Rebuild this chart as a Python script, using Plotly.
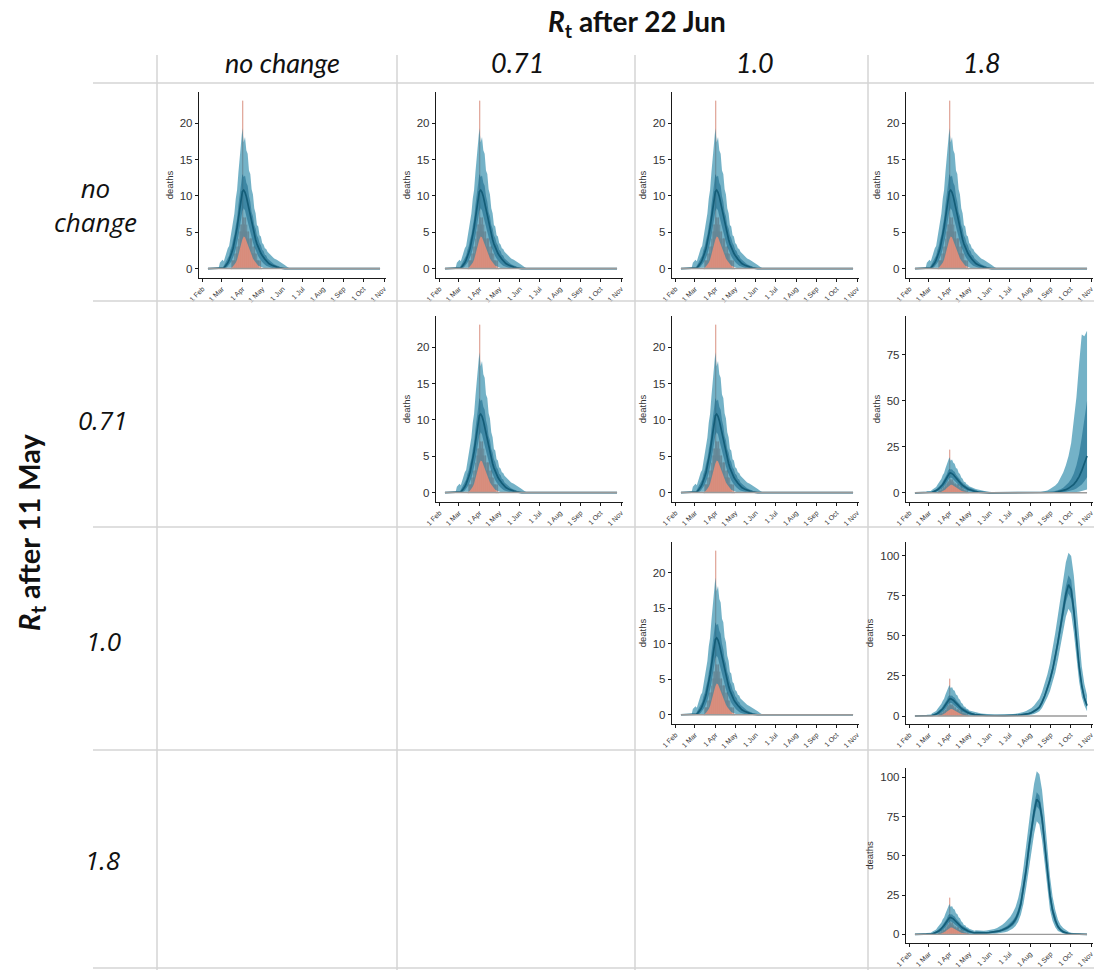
import pandas as pd
import plotly.graph_objects as go

FIG_W, FIG_H = 1094, 970

# ------------------------------------------------------------------ data
# first wave (common to all scenarios), every 2 days
W1_DATES = pd.date_range("2020-02-09", "2020-05-09", freq="2D")
W1_HI95 = [0, 0, 0, 0, 0, 0, 0, 0, 0, 0.8, 1.0, 1.2, 1.0, 1.7, 2.1, 2.8, 3.1, 4.3, 5.3, 6.9,
           7.6, 9.6, 10.8, 13.2, 15.1, 17.6, 19.3, 17.4, 18.1, 16.3, 15.8, 13.5, 13.0, 10.9, 10.2,
           8.3, 7.6, 6.0, 5.8, 4.6, 4.4, 3.5, 3.3, 2.8, 2.7, 2.3]
W1_HI50 = [0, 0, 0, 0, 0, 0, 0, 0, 0, 0, 0, 0, 0.4, 0.8, 1.0, 1.5, 1.8, 2.6, 3.1, 4.0,
           4.7, 5.9, 6.9, 8.7, 10.0, 12.0, 13.0, 12.6, 12.8, 11.8, 11.4, 10.0, 9.2, 7.8, 7.2,
           6.0, 5.5, 4.6, 4.2, 3.5, 3.2, 2.6, 2.4, 1.9, 1.8, 1.4]
W1_MED = [0, 0, 0, 0, 0, 0, 0, 0, 0, 0, 0, 0, 0.1, 0.3, 0.5, 0.8, 1.2, 1.6, 2.2, 2.8,
          3.6, 4.5, 5.6, 6.9, 8.2, 9.4, 10.6, 10.8, 10.5, 9.9, 9.0, 8.0, 7.1, 6.2, 5.4,
          4.7, 4.0, 3.4, 2.9, 2.5, 2.1, 1.8, 1.5, 1.3, 1.1, 0.9]
W1_LO50 = [0, 0, 0, 0, 0, 0, 0, 0, 0, 0, 0, 0, 0, 0, 0.1, 0.3, 0.5, 0.8, 1.1, 1.5,
           2.0, 2.7, 3.4, 4.4, 5.6, 6.8, 7.9, 8.3, 8.0, 7.2, 6.4, 5.6, 4.9, 4.2, 3.6,
           3.0, 2.5, 2.1, 1.7, 1.4, 1.1, 0.9, 0.7, 0.5, 0.4, 0.3]
W1_LO95 = [0, 0, 0, 0, 0, 0, 0, 0, 0, 0, 0, 0, 0, 0, 0, 0, 0, 0, 0.1, 0.3,
           0.5, 0.8, 1.2, 1.8, 2.6, 3.3, 4.0, 4.4, 4.3, 3.8, 3.2, 2.7, 2.3, 1.8, 1.4,
           1.1, 0.8, 0.6, 0.4, 0.3, 0.2, 0.1, 0, 0, 0, 0]

# scenario tails after 11 May, every 4 days (43 points)
TAIL_DATES = pd.date_range("2020-05-11", "2020-10-26", freq="4D")

# A: first wave only
A_HI95 = [2.1, 1.8, 1.4, 1.2, 1.0, 0.8, 0.5, 0.2, 0, 0, 0, 0, 0, 0, 0, 0, 0, 0, 0, 0, 0, 0,
          0, 0, 0, 0, 0, 0, 0, 0, 0, 0, 0, 0, 0, 0, 0, 0, 0, 0, 0, 0, 0]
A_HI50 = [1.2, 0.9, 0.6, 0.4, 0.2, 0.1, 0, 0, 0, 0, 0, 0, 0, 0, 0, 0, 0, 0, 0, 0, 0, 0,
          0, 0, 0, 0, 0, 0, 0, 0, 0, 0, 0, 0, 0, 0, 0, 0, 0, 0, 0, 0, 0]
A_MED = [0.7, 0.5, 0.3, 0.2, 0.1, 0, 0, 0, 0, 0, 0, 0, 0, 0, 0, 0, 0, 0, 0, 0, 0, 0,
         0, 0, 0, 0, 0, 0, 0, 0, 0, 0, 0, 0, 0, 0, 0, 0, 0, 0, 0, 0, 0]
A_LO50 = [0.2, 0.1, 0, 0, 0, 0, 0, 0, 0, 0, 0, 0, 0, 0, 0, 0, 0, 0, 0, 0, 0, 0,
          0, 0, 0, 0, 0, 0, 0, 0, 0, 0, 0, 0, 0, 0, 0, 0, 0, 0, 0, 0, 0]
A_LO95 = [0, 0, 0, 0, 0, 0, 0, 0, 0, 0, 0, 0, 0, 0, 0, 0, 0, 0, 0, 0, 0, 0,
          0, 0, 0, 0, 0, 0, 0, 0, 0, 0, 0, 0, 0, 0, 0, 0, 0, 0, 0, 0, 0]

# B: 0.71 after 11 May, 1.8 after 22 Jun
B_HI95 = [2.0, 1.6, 1.2, 0.9, 0.7, 0.5, 0.3, 0, 0, 0, 0, 0, 0, 0, 0, 0, 0, 0, 0, 0, 0,
          0, 0, 0.2, 0.3, 0.5, 0.8, 1.3, 2.0, 2.8, 4.0, 5.5, 8.0, 11.0, 15.0, 20.0,
          27.0, 38.0, 52.0, 70.0, 86.0, 85.0, 88.0]
B_HI50 = [1.1, 0.8, 0.5, 0.3, 0.1, 0, 0, 0, 0, 0, 0, 0, 0, 0, 0, 0, 0, 0, 0, 0, 0,
          0, 0, 0, 0, 0, 0.1, 0.2, 0.4, 0.6, 0.9, 1.3, 1.9, 2.8, 4.0, 5.5,
          7.5, 10.5, 15.0, 21.0, 30.0, 40.0, 50.0]
B_MED = [0.6, 0.4, 0.2, 0.1, 0, 0, 0, 0, 0, 0, 0, 0, 0, 0, 0, 0, 0, 0, 0, 0, 0,
         0, 0, 0, 0, 0, 0, 0, 0.1, 0.2, 0.3, 0.5, 0.8, 1.2, 1.7, 2.4,
         3.3, 4.6, 6.4, 8.8, 12.0, 16.0, 20.0]
B_LO50 = [0.2, 0.1, 0, 0, 0, 0, 0, 0, 0, 0, 0, 0, 0, 0, 0, 0, 0, 0, 0, 0, 0,
          0, 0, 0, 0, 0, 0, 0, 0, 0, 0, 0, 0.2, 0.3, 0.5, 0.8,
          1.1, 1.6, 2.3, 3.2, 4.5, 6.2, 8.5]
B_LO95 = [0, 0, 0, 0, 0, 0, 0, 0, 0, 0, 0, 0, 0, 0, 0, 0, 0, 0, 0, 0, 0,
          0, 0, 0, 0, 0, 0, 0, 0, 0, 0, 0, 0, 0, 0, 0,
          0.1, 0.2, 0.4, 0.6, 0.9, 1.3, 1.8]

# C: 1.0 after 11 May, 1.8 after 22 Jun
C_HI95 = [2.2, 1.9, 1.6, 1.4, 1.2, 1.1, 1.0, 0.9, 0.9, 0.9, 0.9, 0.9, 1.0, 1.1, 1.2, 1.4,
          1.7, 2.0, 2.5, 3.1, 3.9, 5.0, 6.5, 8.5, 11.0, 15.0, 20.0, 26.0, 33.0, 42.0, 52.0,
          63.0, 74.0, 85.0, 96.0, 102.0, 100.0, 88.0, 68.0, 47.0, 31.0, 20.0, 13.0]
C_HI50 = [1.2, 1.0, 0.8, 0.6, 0.5, 0.4, 0.4, 0.3, 0.3, 0.3, 0.3, 0.3, 0.4, 0.4, 0.5, 0.6,
          0.8, 1.0, 1.3, 1.6, 2.0, 2.6, 3.5, 4.8, 6.4, 9.6, 13.8, 18.7, 24.4, 31.0, 39.5,
          49.0, 60.0, 71.0, 81.0, 88.0, 85.0, 71.0, 52.0, 34.5, 21.5, 12.8, 8.0]
C_MED = [0.8, 0.6, 0.5, 0.4, 0.3, 0.3, 0.2, 0.2, 0.2, 0.2, 0.2, 0.2, 0.2, 0.3, 0.3, 0.4,
         0.5, 0.7, 0.9, 1.2, 1.5, 2.0, 2.8, 4.0, 5.5, 8.5, 12.5, 17.0, 22.5, 29.0, 37.0,
         46.0, 56.0, 66.0, 76.0, 82.0, 79.0, 66.0, 48.0, 31.0, 19.0, 11.0, 6.5]
C_LO50 = [0.4, 0.3, 0.2, 0.2, 0.1, 0.1, 0.1, 0.1, 0.1, 0.1, 0.1, 0.1, 0.1, 0.1, 0.1, 0.2,
          0.3, 0.4, 0.6, 0.8, 1.1, 1.5, 2.2, 3.2, 4.6, 7.4, 11.2, 15.5, 20.5, 27.0, 34.0,
          43.0, 52.0, 61.5, 71.0, 76.5, 73.0, 61.0, 44.0, 28.0, 17.0, 9.8, 5.5]
C_LO95 = [0, 0, 0, 0, 0, 0, 0, 0, 0, 0, 0, 0, 0, 0, 0, 0,
          0.1, 0.1, 0.2, 0.3, 0.5, 0.8, 1.2, 2.0, 2.9, 5.0, 8.0, 11.5, 15.5, 21.0, 27.0,
          35.0, 44.0, 53.0, 62.0, 67.0, 64.0, 52.0, 36.0, 21.5, 12.0, 6.5, 3.0]

# D: 1.8 after 11 May (and after 22 Jun)
D_HI95 = [2.6, 2.4, 2.3, 2.3, 2.4, 2.6, 2.9, 3.4, 4.1, 5.0, 6.2, 7.6, 9.2, 11.3, 14.0, 17.5,
          23.0, 31.0, 43.0, 57.0, 72.0, 84.0, 96.0, 104.0, 102.0, 92.0, 75.0, 55.0, 37.0, 24.0,
          15.5, 9.5, 6.0, 4.0, 2.5, 1.6, 1.0, 0.7, 0.5, 0.3, 0.2, 0.1, 0]
D_HI50 = [1.6, 1.5, 1.4, 1.4, 1.5, 1.6, 1.8, 2.1, 2.5, 3.0, 3.7, 4.6, 5.7, 7.1, 9.0, 11.6,
          16.0, 22.5, 32.5, 45.0, 59.5, 71.5, 82.5, 90.5, 88.5, 78.5, 62.5, 44.0, 28.5, 17.5,
          11.0, 6.3, 3.7, 2.2, 1.3, 0.8, 0.5, 0.3, 0.2, 0.1, 0, 0, 0]
D_MED = [1.1, 1.0, 1.0, 1.0, 1.0, 1.1, 1.3, 1.5, 1.8, 2.2, 2.8, 3.5, 4.4, 5.6, 7.2, 9.6,
         13.5, 19.5, 29.0, 41.0, 55.0, 67.0, 78.0, 86.0, 84.0, 74.0, 58.0, 40.0, 25.0, 15.0,
         9.0, 5.0, 2.8, 1.6, 0.9, 0.5, 0.3, 0.2, 0.1, 0, 0, 0, 0]
D_LO50 = [0.6, 0.6, 0.6, 0.6, 0.6, 0.7, 0.8, 1.0, 1.2, 1.5, 2.0, 2.5, 3.2, 4.2, 5.6, 7.7,
          11.0, 16.5, 25.5, 37.0, 50.5, 62.5, 73.5, 81.5, 79.5, 69.5, 53.5, 36.0, 21.5, 12.5,
          7.0, 3.8, 2.0, 1.1, 0.6, 0.3, 0.1, 0.1, 0, 0, 0, 0, 0]
D_LO95 = [0.1, 0.1, 0.1, 0.2, 0.2, 0.2, 0.3, 0.4, 0.5, 0.7, 1.0, 1.3, 1.9, 2.7, 3.8, 5.4,
          8.0, 12.5, 19.5, 29.5, 42.0, 54.0, 64.0, 72.0, 70.0, 60.0, 44.0, 28.0, 15.5, 8.5,
          4.5, 2.2, 1.1, 0.5, 0.2, 0.1, 0, 0, 0, 0, 0, 0, 0]

# observed daily deaths
OBS_DATES = pd.date_range("2020-03-16", "2020-04-30", freq="D")
OBS_DEATHS = [0, 1, 0, 1, 1, 2, 1, 2, 3, 2, 3, 4, 3, 5, 4, 6,
              5, 23, 7, 6, 5, 7, 5, 6, 4, 5, 4, 3, 4, 3, 4, 2, 3, 2, 3, 2,
              2, 1, 2, 1, 1, 1, 0, 1, 0, 0]

MONTH_TICKS = ["2020-02-01", "2020-03-01", "2020-04-01", "2020-05-01", "2020-06-01",
               "2020-07-01", "2020-08-01", "2020-09-01", "2020-10-01", "2020-11-01"]
MONTH_LABELS = ["1 Feb", "1 Mar", "1 Apr", "1 May", "1 Jun", "1 Jul", "1 Aug", "1 Sep",
                "1 Oct", "1 Nov"]

COL_LABELS = ["no change", "0.71", "1.0", "1.8"]
ROW_LABELS = ["no<br>change", "0.71", "1.0", "1.8"]
TOP_TITLE = "<b><i>R</i><sub>t</sub> after 22 Jun</b>"
LEFT_TITLE = "<b><i>R</i><sub>t</sub> after 11 May</b>"

SCENARIOS = {
    "A": (A_HI95, A_HI50, A_MED, A_LO50, A_LO95),
    "B": (B_HI95, B_HI50, B_MED, B_LO50, B_LO95),
    "C": (C_HI95, C_HI50, C_MED, C_LO50, C_LO95),
    "D": (D_HI95, D_HI50, D_MED, D_LO50, D_LO95),
}
PANELS = [(0, 0, "A"), (0, 1, "A"), (0, 2, "A"), (0, 3, "A"),
          (1, 1, "A"), (1, 2, "A"), (1, 3, "B"),
          (2, 2, "A"), (2, 3, "C"),
          (3, 3, "D")]

# ------------------------------------------------------------------ layout geometry (pixels)
Y_RANGES = {"A": [-1.3, 24.3], "B": [-5, 96], "C": [-5, 108.7], "D": [-5.5, 106]}
Y_DTICK = {"A": 5, "B": 25, "C": 25, "D": 25}
X_RANGE = ["2020-01-26 12:00", "2020-11-04"]
COL_X = [199, 436, 672, 906]
PANEL_W = 187
ROW_Y = [(92, 278), (316, 502), (542, 724), (768, 943)]
H_LINES = [83, 301, 527, 750, 968]
V_LINES = [157, 397, 635, 868]
COL_LABEL_X = [282, 517, 755, 982]
ROW_LABEL_X = [95, 103, 103, 103]
ROW_LABEL_Y = [205, 420, 641, 860]

OUTER = "rgba(30,130,165,0.62)"
INNER = "rgba(18,100,135,0.55)"
MED_COL = "#145d78"
BAR_COL = "#d68c7b"
GREY = "#9a9a9a"
AXIS_COL = "#1a1a1a"
TICK_FONT = "Liberation Sans, Arial"


def px(x):
    return x / FIG_W


def py(y):
    return 1 - y / FIG_H


all_dates = list(W1_DATES) + list(TAIL_DATES)

fig = go.Figure()
layout_axes = {}
for k, (r, c, sc) in enumerate(PANELS, start=1):
    xa = "x" if k == 1 else f"x{k}"
    ya = "y" if k == 1 else f"y{k}"
    hi95, hi50, med, lo50, lo95 = SCENARIOS[sc]
    HI95 = W1_HI95 + hi95
    HI50 = W1_HI50 + hi50
    MED = W1_MED + med
    LO50 = W1_LO50 + lo50
    LO95 = W1_LO95 + lo95

    # 95% band
    fig.add_trace(go.Scatter(x=all_dates, y=LO95, mode="lines", line=dict(width=0),
                             xaxis=xa, yaxis=ya, showlegend=False, hoverinfo="skip"))
    fig.add_trace(go.Scatter(x=all_dates, y=HI95, mode="lines", line=dict(width=0),
                             fill="tonexty", fillcolor=OUTER, xaxis=xa, yaxis=ya,
                             showlegend=False, hoverinfo="skip"))
    # 50% band
    fig.add_trace(go.Scatter(x=all_dates, y=LO50, mode="lines", line=dict(width=0),
                             xaxis=xa, yaxis=ya, showlegend=False, hoverinfo="skip"))
    fig.add_trace(go.Scatter(x=all_dates, y=HI50, mode="lines", line=dict(width=0),
                             fill="tonexty", fillcolor=INNER, xaxis=xa, yaxis=ya,
                             showlegend=False, hoverinfo="skip"))
    # median
    fig.add_trace(go.Scatter(x=all_dates, y=MED, mode="lines",
                             line=dict(color=MED_COL, width=1.7),
                             xaxis=xa, yaxis=ya, showlegend=False, hoverinfo="skip"))
    # zero baseline
    fig.add_trace(go.Scatter(x=[all_dates[0], all_dates[-1]], y=[0, 0], mode="lines",
                             line=dict(color=GREY, width=1.4), xaxis=xa, yaxis=ya,
                             showlegend=False, hoverinfo="skip"))
    # observed deaths
    fig.add_trace(go.Bar(x=OBS_DATES, y=OBS_DEATHS,
                         marker=dict(color=BAR_COL, line=dict(width=0.6, color=BAR_COL)),
                         width=86400000 * 1.0, xaxis=xa, yaxis=ya, showlegend=False,
                         hoverinfo="skip"))

    x0 = COL_X[c]
    top, bot = ROW_Y[r]
    layout_axes["xaxis" if k == 1 else f"xaxis{k}"] = dict(
        domain=[px(x0), px(x0 + PANEL_W)], anchor=ya, type="date", range=X_RANGE,
        tickmode="array", tickvals=MONTH_TICKS, ticktext=MONTH_LABELS, tickangle=-45,
        tickfont=dict(size=7, color="#333333", family=TICK_FONT), automargin=False,
        ticklabeloverflow="allow",
        showline=True, linecolor=AXIS_COL, linewidth=1.4, ticks="outside", ticklen=3,
        tickcolor=AXIS_COL, tickwidth=1, showgrid=False, zeroline=False, fixedrange=True)
    layout_axes["yaxis" if k == 1 else f"yaxis{k}"] = dict(
        domain=[py(bot), py(top)], anchor=xa, range=Y_RANGES[sc], tickmode="linear", tick0=0,
        dtick=Y_DTICK[sc], tickfont=dict(size=11.5, color="#333333", family=TICK_FONT),
        automargin=False,
        showline=True, linecolor=AXIS_COL, linewidth=1.4, ticks="outside", ticklen=3,
        tickcolor=AXIS_COL, tickwidth=1, showgrid=False, zeroline=False, fixedrange=True,
        title=dict(text="deaths", font=dict(size=9.5, color="#333333", family=TICK_FONT),
                   standoff=4))

shapes = []
for y in H_LINES:
    shapes.append(dict(type="line", xref="paper", yref="paper", x0=px(93), x1=1.0,
                       y0=py(y), y1=py(y), line=dict(color="#d4d4d4", width=1.5)))
for x in V_LINES:
    shapes.append(dict(type="line", xref="paper", yref="paper", x0=px(x), x1=px(x),
                       y0=py(55), y1=0.0, line=dict(color="#d4d4d4", width=1.5)))

annotations = [
    dict(text=TOP_TITLE, x=px(637), y=py(23), xref="paper", yref="paper", showarrow=False,
         xanchor="center", yanchor="middle", font=dict(family="Lato", size=28, color="#111111")),
    dict(text=LEFT_TITLE, x=px(30), y=py(532), xref="paper", yref="paper", showarrow=False,
         textangle=-90, xanchor="center", yanchor="middle",
         font=dict(family="Lato", size=29, color="#111111")),
]
for lbl, cx in zip(COL_LABELS, COL_LABEL_X):
    annotations.append(dict(text=f"<i>{lbl}</i>", x=px(cx), y=py(63), xref="paper",
                            yref="paper", showarrow=False, xanchor="center", yanchor="middle",
                            font=dict(family="Lato", size=27, color="#111111")))
for lbl, cx, cy in zip(ROW_LABELS, ROW_LABEL_X, ROW_LABEL_Y):
    annotations.append(dict(text=f"<i>{lbl}</i>", x=px(cx), y=py(cy), xref="paper",
                            yref="paper", showarrow=False, xanchor="center", yanchor="middle",
                            font=dict(family="Open Sans", size=26, color="#111111")))

fig.update_layout(
    width=FIG_W, height=FIG_H, margin=dict(l=0, r=0, t=0, b=0, autoexpand=False),
    paper_bgcolor="white", plot_bgcolor="white", barmode="overlay", bargap=0,
    showlegend=False, shapes=shapes, annotations=annotations, **layout_axes)

fig.write_html("out.html", config={"displayModeBar": False},
               post_script="document.body.style.margin='0';document.body.style.padding='0';")
